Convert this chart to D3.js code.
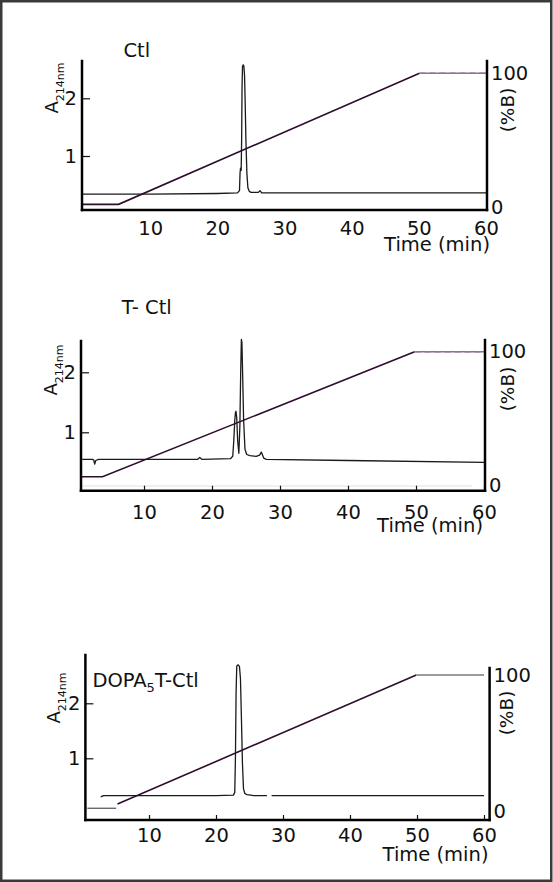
<!DOCTYPE html>
<html><head><meta charset="utf-8">
<script src="https://cdn.jsdelivr.net/npm/d3@7"></script>
<style>
body{margin:0;background:#fff}
svg{display:block}
text{font-family:"DejaVu Sans",sans-serif;fill:#111}
</style>
</head><body>
<svg id="c" width="553" height="882"></svg>
<script>
// ---------- data ----------
const xTicks = [10, 20, 30, 40, 50, 60];
const yTicks = [1, 2];
const bTicks = [0, 100];
const panelLabels = ["Ctl", "T- Ctl", "DOPA"];

// Ctl chromatogram
const ctlTime = [0, 10, 20, 23.0, 23.3, 23.38, 23.45, 23.55, 23.62, 23.68, 23.75, 23.85, 23.95, 24.05, 24.15, 24.25, 24.4, 24.55, 24.75, 25.0, 26.1, 26.35, 26.6, 30, 45, 60];
const ctlA214 = [0.34, 0.34, 0.35, 0.36, 0.40, 0.70, 0.79, 0.75, 1.3, 2.2, 2.55, 2.58, 2.56, 2.4, 1.9, 1.3, 0.7, 0.45, 0.39, 0.37, 0.37, 0.40, 0.36, 0.36, 0.36, 0.36];
const ctlRampTime = [0, 5.3, 50.1];
const ctlRampB = [2, 2, 100];
const ctlPlatTime = [50.1, 60];
const ctlPlatB = [100, 100];

// T- Ctl chromatogram
const tctlTime = [0.9, 2.4, 2.6, 2.75, 2.9, 3.3, 10, 17.9, 18.2, 18.5, 22.7, 23.05, 23.2, 23.35, 23.45, 23.53, 23.63, 23.78, 23.95, 24.1, 24.22, 24.32, 24.4, 24.5, 24.65, 24.85, 25.1, 25.6, 26.5, 27.0, 27.25, 27.4, 27.6, 28, 40, 60];
const tctlA214 = [0.55, 0.55, 0.54, 0.47, 0.53, 0.55, 0.55, 0.55, 0.58, 0.55, 0.56, 0.6, 0.85, 1.2, 1.33, 1.35, 1.25, 0.85, 0.65, 1.1, 2.0, 2.55, 2.5, 2.0, 1.2, 0.72, 0.63, 0.61, 0.6, 0.62, 0.67, 0.63, 0.57, 0.55, 0.53, 0.50];
const tctlFaintTime = [0.74, 58.3];
const tctlFaintA = [0.105, 0.105];
const tctlRampTime = [0.74, 3.9, 49.8];
const tctlRampB = [6.2, 6.2, 100];
const tctlPlatTime = [49.8, 60];
const tctlPlatB = [100, 100];

// DOPA5T-Ctl chromatogram (null = gap in trace)
const dopaTime = [2.8, 3.2, 10, 20, 22.6, 22.8, 22.9, 23.0, 23.1, 23.3, 23.5, 23.65, 23.8, 23.95, 24.1, 24.3, 24.6, 25.2, 25.6, 27.6, 27.95, 28.3, 40, 60];
const dopaA214 = [0.30, 0.32, 0.32, 0.32, 0.33, 0.38, 1.0, 2.2, 2.68, 2.70, 2.67, 2.45, 1.7, 0.9, 0.45, 0.36, 0.34, 0.33, 0.32, 0.32, null, 0.32, 0.32, 0.32];
const dopaLowTime = [0.8, 5.1];
const dopaLowB = [2.5, 2.5];
const dopaRampTime = [5.3, 49.9];
const dopaRampB = [5.6, 100];
const dopaPlatTime = [49.9, 60];
const dopaPlatB = [100, 100];

const zip = (a, b) => a.map((v, i) => [v, b[i]]);

// ---------- layout ----------
const panels = [
  { title: panelLabels[0], sub: null, titleRest: null,
    trace: zip(ctlTime, ctlA214), faint: null,
    low: null, ramp: zip(ctlRampTime, ctlRampB), plat: zip(ctlPlatTime, ctlPlatB), dashed: true,
    x0: 83, x60: 486, axL: 82, axR: 487, top: 61, topR: 61, bot: 210,
    y0: 213.7, y2: 98.3, b0: 207, b100: 73.3, xPad: 11, xTick: 0,
    tx: 123.5, ty: 56.7, ax: 58, ay: 88, bx: 514, by: 110, timeX: 490, timeY: 251 },
  { title: panelLabels[1], sub: null, titleRest: null,
    trace: zip(tctlTime, tctlA214), faint: zip(tctlFaintTime, tctlFaintA),
    low: null, ramp: zip(tctlRampTime, tctlRampB), plat: zip(tctlPlatTime, tctlPlatB), dashed: true,
    x0: 76, x60: 484, axL: 81, axR: 485, top: 341, topR: 340, bot: 490.7,
    y0: 492.3, y2: 372.3, b0: 485, b100: 351.7, xPad: 14.3, xTick: 5,
    tx: 121.7, ty: 314.3, ax: 56.5, ay: 370, bx: 514, by: 389, timeX: 483, timeY: 532 },
  { title: panelLabels[2], sub: "5", titleRest: "T-Ctl",
    trace: zip(dopaTime, dopaA214), faint: null,
    low: zip(dopaLowTime, dopaLowB), ramp: zip(dopaRampTime, dopaRampB), plat: zip(dopaPlatTime, dopaPlatB), dashed: false,
    x0: 82, x60: 484, axL: 85.4, axR: 489.6, top: 655, topR: 668, bot: 820,
    y0: 813.3, y2: 703.3, b0: 811.7, b100: 675, xPad: 8.3, xTick: 5,
    tx: 92.4, ty: 686.7, ax: 60, ay: 698, bx: 513, by: 713, timeX: 488.5, timeY: 861 }
];

const svg = d3.select("#c");
svg.append("rect").attr("x", 1.25).attr("y", 1.25).attr("width", 550).attr("height", 879.5)
  .attr("fill", "none").attr("stroke", "#3a3a3a").attr("stroke-width", 2.5);

const FS = 19.5;

panels.forEach(p => {
  const g = svg.append("g");
  const x = d3.scaleLinear().domain([0, 60]).range([p.x0, p.x60]);
  const y = d3.scaleLinear().domain([0, 2]).range([p.y0, p.y2]);
  const b = d3.scaleLinear().domain([0, 100]).range([p.b0, p.b100]);
  const lineA = d3.line().defined(d => d[1] != null).x(d => x(d[0])).y(d => y(d[1]));
  const lineB = d3.line().x(d => x(d[0])).y(d => b(d[1]));

  if (p.faint) g.append("path").attr("d", lineA(p.faint)).attr("fill", "none")
    .attr("stroke", "#e2e2e2").attr("stroke-width", 1.2);

  // chromatogram
  g.append("path").attr("d", lineA(p.trace)).attr("fill", "none")
    .attr("stroke", "#1a1a1a").attr("stroke-width", 1.3).attr("stroke-linejoin", "round");

  // gradient
  if (p.low) g.append("path").attr("d", lineB(p.low)).attr("fill", "none")
    .attr("stroke", "#6a6a6a").attr("stroke-width", 1.4);
  g.append("path").attr("d", lineB(p.ramp)).attr("fill", "none")
    .attr("stroke", "#2e0d2e").attr("stroke-width", 1.6);
  g.append("path").attr("d", lineB(p.plat)).attr("fill", "none")
    .attr("stroke", "#7a7a7a").attr("stroke-width", 1.5);
  if (p.dashed) g.append("path").attr("d", lineB(p.plat)).attr("fill", "none")
    .attr("stroke", "#a46aa4").attr("stroke-width", 1.5).attr("stroke-dasharray", "6,4");

  // axes (ticks & labels)
  const fmt = d3.format("d");
  const xa = g.append("g").attr("transform", `translate(0,${p.bot})`)
    .call(d3.axisBottom(x).tickValues(xTicks).tickFormat(fmt).tickSizeInner(-p.xTick).tickSizeOuter(0).tickPadding(p.xPad));
  const ya = g.append("g").attr("transform", `translate(${p.axL},0)`)
    .call(d3.axisLeft(y).tickValues(yTicks).tickFormat(fmt).tickSizeInner(-8).tickSizeOuter(0).tickPadding(5));
  const ba = g.append("g").attr("transform", `translate(${p.axR},0)`)
    .call(d3.axisRight(b).tickValues(bTicks).tickFormat(fmt).tickSize(0).tickPadding(4));
  [xa, ya, ba].forEach(a => {
    a.select(".domain").remove();
    a.attr("font-family", null).attr("font-size", null);
    a.selectAll("text").attr("font-size", FS).attr("fill", "#111");
    a.selectAll("line").attr("stroke", "#111").attr("stroke-width", 1.2);
  });

  // axis lines
  const ax = (x1, y1, x2, y2) => g.append("line").attr("x1", x1).attr("y1", y1).attr("x2", x2).attr("y2", y2)
    .attr("stroke", "#000").attr("stroke-width", 2.5).attr("stroke-linecap", "square");
  ax(p.axL, p.top, p.axL, p.bot);
  ax(p.axR, p.topR, p.axR, p.bot);
  ax(p.axL, p.bot, p.axR, p.bot);

  // title
  const t = g.append("text").attr("x", p.tx).attr("y", p.ty).attr("font-size", FS);
  t.append("tspan").text(p.title);
  if (p.sub) {
    t.append("tspan").attr("font-size", 13).attr("dy", 5).text(p.sub);
    t.append("tspan").attr("dy", -5).text(p.titleRest);
  }

  // left axis title A214nm
  const at = g.append("text").attr("transform", `translate(${p.ax},${p.ay}) rotate(-90)`)
    .attr("text-anchor", "middle");
  at.append("tspan").attr("font-size", 18).text("A");
  at.append("tspan").attr("font-size", 11).attr("dy", 6).text("214nm");

  // right axis title
  g.append("text").attr("transform", `translate(${p.bx},${p.by}) rotate(-90)`)
    .attr("text-anchor", "middle").attr("font-size", 18.5).text("(%B)");

  // x axis title
  g.append("text").attr("x", p.timeX).attr("y", p.timeY).attr("text-anchor", "end")
    .attr("font-size", FS).text("Time (min)");
});
</script>
</body></html>
